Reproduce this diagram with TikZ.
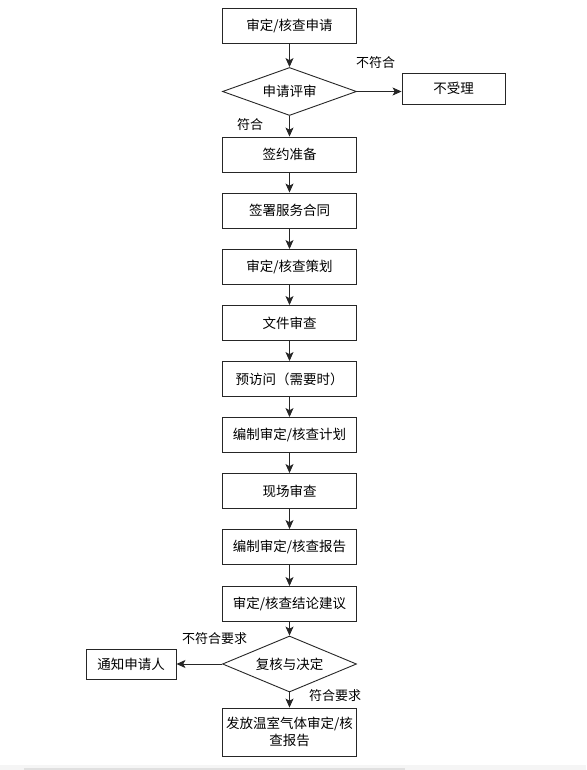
\documentclass[tikz,border=0pt]{standalone}
\usepackage{fontspec}
\setmainfont{Noto Sans CJK SC}
\usetikzlibrary{arrows.meta,shapes.geometric}
\begin{document}
\begin{tikzpicture}[x=1pt,y=-1pt,
  box/.style={draw=black!85,line width=0.9pt,rectangle,minimum width=134pt,minimum height=35pt,inner sep=0pt,font=\fontsize{13.5}{17}\selectfont,align=center},
  dia/.style={draw=black!85,line width=0.9pt,diamond,minimum width=134pt,inner sep=0pt,font=\fontsize{13.5}{17}\selectfont},
  lbl/.style={font=\fontsize{13}{15}\selectfont,inner sep=0pt},
  arr/.style={draw=black!85,line width=0.9pt,-{Stealth[length=9pt,width=8pt,inset=2.2pt]}}]
\useasboundingbox (0,0) rectangle (586,770);
\fill[white] (0,0) rectangle (586,770);
\fill[black!4] (0,765) rectangle (586,770);
\fill[black!12] (24,767.5) rectangle (405,770);

\node[box] (b1) at (289.5,25.5) {审定/核查申请};
\node[dia,minimum height=48pt,aspect=2.79] (d1) at (289.5,91.5) {申请评审};
\node[box,minimum width=103pt,minimum height=31pt] (rej) at (453.5,88.5) {不受理};
\node[box] (b2) at (289.5,154.5) {签约准备};
\node[box] (b3) at (289.5,210.5) {签署服务合同};
\node[box] (b4) at (289.5,267) {审定/核查策划};
\node[box] (b5) at (289.5,323) {文件审查};
\node[box] (b6) at (289.5,379) {预访问（需要时）};
\node[box] (b7) at (289.5,435) {编制审定/核查计划};
\node[box] (b8) at (289.5,491) {现场审查};
\node[box] (b9) at (289.5,547) {编制审定/核查报告};
\node[box] (b10) at (289.5,604) {审定/核查结论建议};
\node[dia,minimum height=56pt,aspect=2.39] (d2) at (289.5,664) {复核与决定};
\node[box,minimum width=90pt,minimum height=30pt] (notify) at (131,664) {通知申请人};
\node[box,minimum height=48pt] (fin) at (289.5,732) {发放温室气体审定/核\\查报告};

\draw[arr] (b1) -- (d1);
\draw[arr] (d1.east) -- (d1.east -| rej.west);
\draw[arr] (d1) -- (b2);
\draw[arr] (b2) -- (b3);
\draw[arr] (b3) -- (b4);
\draw[arr] (b4) -- (b5);
\draw[arr] (b5) -- (b6);
\draw[arr] (b6) -- (b7);
\draw[arr] (b7) -- (b8);
\draw[arr] (b8) -- (b9);
\draw[arr] (b9) -- (b10);
\draw[arr] (b10) -- (d2);
\draw[arr] (d2.west) -- (notify.east);
\draw[arr] (d2) -- (fin);

\node[lbl] (l1) at (375.5,63) {不符合};
\node[lbl] (l2) at (250,125) {符合};
\node[lbl] (l3) at (214.5,639) {不符合要求};
\node[lbl] (l4) at (335,696) {符合要求};
\end{tikzpicture}
\end{document}
